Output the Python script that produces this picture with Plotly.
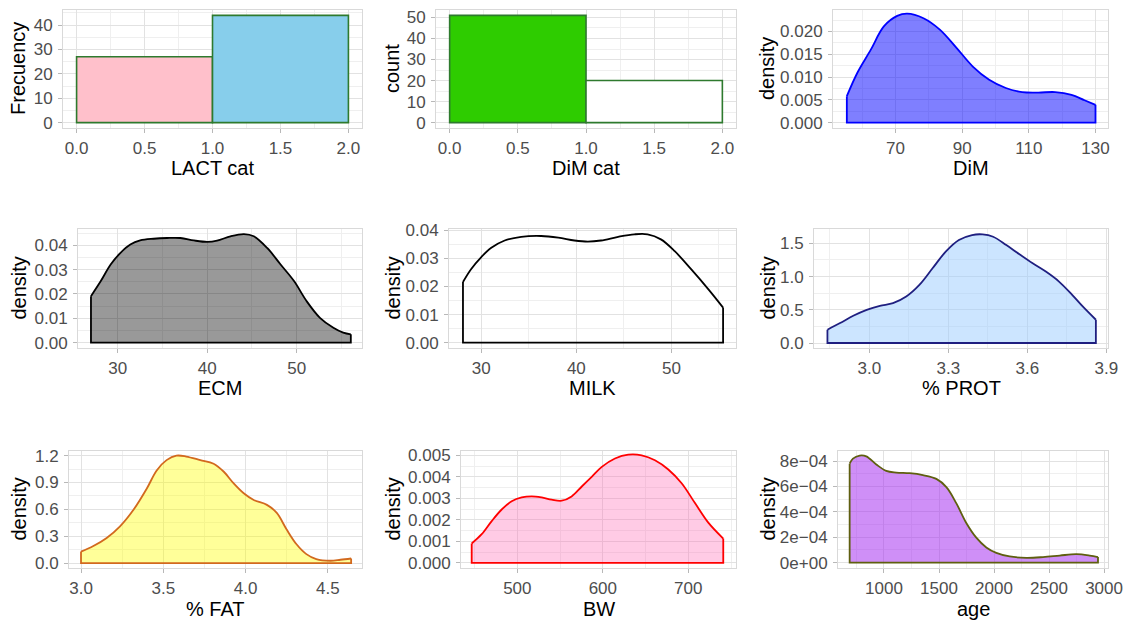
import plotly.graph_objects as go

# ---------------- data ----------------
lact_edges = [0, 1, 2]
lact_counts = [27, 44]
dimcat_edges = [0, 1, 2]
dimcat_counts = [51, 20]

dim_x = [55.4, 58.6, 62.6, 66.5, 70.5, 73.5, 78.4, 83.3, 88.3, 93.2, 98.1, 103.1, 108.0, 112.9, 117.9, 122.8, 126.7, 130.0]
dim_d = [0.0058, 0.0110, 0.0160, 0.0211, 0.0234, 0.0239, 0.0229, 0.0204, 0.0164, 0.0123, 0.0094, 0.0076, 0.0067, 0.0066, 0.0067, 0.0061, 0.0049, 0.0039]

ecm_x = [27.0, 28.1, 29.2, 30.3, 31.4, 32.5, 34.0, 35.5, 37.0, 38.5, 40.0, 41.1, 42.6, 44.1, 45.2, 46.7, 48.2, 49.7, 51.1, 52.6, 54.1, 55.2, 56.05]
ecm_d = [0.0191, 0.0253, 0.0321, 0.0369, 0.0403, 0.0420, 0.0427, 0.0430, 0.0430, 0.0420, 0.0414, 0.0419, 0.0437, 0.0446, 0.0437, 0.0389, 0.0321, 0.0253, 0.0171, 0.0102, 0.0061, 0.0041, 0.0034]

milk_x = [28.07, 28.9, 30.0, 31.05, 32.46, 34.2, 36.3, 38.1, 39.8, 41.2, 42.6, 44.4, 46.1, 47.5, 48.9, 50.35, 52.1, 53.9, 55.44]
milk_d = [0.0216, 0.0261, 0.0305, 0.0338, 0.0364, 0.0377, 0.0380, 0.0374, 0.0364, 0.0360, 0.0364, 0.0377, 0.0386, 0.0386, 0.0368, 0.0326, 0.0261, 0.0190, 0.0125]

prot_x = [2.841, 2.889, 2.939, 2.99, 3.04, 3.09, 3.14, 3.19, 3.24, 3.29, 3.34, 3.39, 3.43, 3.47, 3.52, 3.57, 3.62, 3.67, 3.72, 3.77, 3.81, 3.86]
prot_d = [0.20, 0.30, 0.41, 0.50, 0.56, 0.60, 0.70, 0.875, 1.125, 1.375, 1.55, 1.625, 1.635, 1.60, 1.475, 1.335, 1.20, 1.075, 0.925, 0.725, 0.55, 0.35]

fat_x = [3.0, 3.075, 3.156, 3.237, 3.319, 3.40, 3.46, 3.52, 3.58, 3.64, 3.725, 3.806, 3.868, 3.928, 3.989, 4.05, 4.13, 4.19, 4.25, 4.31, 4.37, 4.43, 4.516, 4.577, 4.642]
fat_d = [0.128, 0.19, 0.28, 0.41, 0.595, 0.833, 1.035, 1.15, 1.20, 1.19, 1.15, 1.11, 1.02, 0.89, 0.78, 0.705, 0.65, 0.56, 0.375, 0.21, 0.10, 0.044, 0.026, 0.037, 0.051]

bw_x = [446.6, 458.3, 470.0, 481.7, 493.4, 505.1, 516.8, 528.5, 540.2, 551.9, 563.5, 575.4, 587.0, 598.8, 614.2, 629.8, 645.4, 661.0, 676.6, 692.2, 707.8, 723.4, 740.9]
bw_d = [0.0009, 0.00133, 0.00194, 0.00248, 0.00286, 0.00304, 0.00309, 0.00304, 0.00294, 0.00289, 0.00309, 0.00355, 0.0040, 0.00446, 0.00485, 0.00503, 0.0050, 0.00477, 0.00434, 0.0037, 0.00278, 0.00187, 0.00113]

age_x = [688, 718, 779, 839, 930, 1021, 1112, 1233, 1354, 1476, 1567, 1658, 1748, 1839, 1930, 2021, 2142, 2294, 2445, 2597, 2748, 2870, 2945]
age_d = [7.8e-4, 8.2e-4, 8.44e-4, 8.38e-4, 7.74e-4, 7.23e-4, 7.1e-4, 7.05e-4, 6.9e-4, 6.6e-4, 5.95e-4, 4.67e-4, 3.13e-4, 1.97e-4, 1.2e-4, 7.7e-5, 4.9e-5, 3.8e-5, 4.4e-5, 5.6e-5, 6.7e-5, 5.6e-5, 4.4e-5]
age_ticks = [0, 2e-4, 4e-4, 6e-4, 8e-4]
age_ticklabels = ["0e+00", "2e\u221204", "4e\u221204", "6e\u221204", "8e\u221204"]

# ---------------- layout helpers ----------------
W, H = 1125, 621
FONT = "Liberation Sans, Arial, Helvetica, sans-serif"

# panel boxes in pixels: left, right, top, bottom
boxes = [
    (63, 362, 10, 128), (436, 736, 10, 128), (833, 1108, 10, 128),
    (78, 362, 229, 348), (449, 736, 229, 348), (814, 1108, 229, 348),
    (69, 362, 451, 568), (461, 736, 451, 568), (838, 1108, 451, 568),
]

fig = go.Figure()
layout = dict(
    width=W, height=H, margin=dict(l=0, r=0, t=0, b=0),
    paper_bgcolor="white", plot_bgcolor="white", showlegend=False,
    font=dict(family=FONT), annotations=[],
)


def axis(box, horiz, rng, tick0, dtick, mdtick, fmt=None, tickvals=None, ticktext=None):
    l, r, t, b = box
    dom = [l / W, r / W] if horiz else [1 - b / H, 1 - t / H]
    a = dict(
        domain=dom, range=rng, showline=True, mirror=True, linecolor="#D9D9D9", linewidth=1,
        showgrid=True, gridcolor="#E2E2E2", gridwidth=1, zeroline=False,
        ticks="outside", ticklen=4, tickwidth=1, tickcolor="#B8B8B8",
        tickfont=dict(size=17, color="#4D4D4D", family=FONT), automargin=False,
        ticklabelstandoff=1 if horiz else 2,
        minor=dict(showgrid=True, gridcolor="#EFEFEF", gridwidth=0.8, tickmode="linear",
                   tick0=tick0, dtick=mdtick),
    )
    if tickvals is not None:
        a.update(tickmode="array", tickvals=tickvals, ticktext=ticktext)
    else:
        a.update(tickmode="linear", tick0=tick0, dtick=dtick)
    if fmt:
        a["tickformat"] = fmt
    return a


def add_xtitle(box, xt, xt_y):
    l, r, t, b = box
    layout["annotations"].append(dict(
        text=xt, xref="paper", yref="paper", x=(l + r) / 2 / W, y=1 - xt_y / H,
        xanchor="center", yanchor="middle", showarrow=False,
        font=dict(size=20, color="black", family=FONT)))


def add_ytitle(box, yt, x_px):
    l, r, t, b = box
    layout["annotations"].append(dict(
        text=yt, xref="paper", yref="paper", x=x_px / W, y=1 - (t + b) / 2 / H,
        xanchor="center", yanchor="middle", showarrow=False, textangle=-90,
        font=dict(size=20, color="black", family=FONT)))


def hist(i, edges, counts, fills):
    xa, ya = f"x{i}", f"y{i}"
    centers = [(edges[k] + edges[k + 1]) / 2 for k in range(len(counts))]
    widths = [edges[k + 1] - edges[k] for k in range(len(counts))]
    fig.add_trace(go.Bar(x=centers, y=counts, width=widths, xaxis=xa, yaxis=ya,
                         marker=dict(color=fills, line=dict(color="#2E7A2E", width=1.6))))


def dens(i, xs, ds, fill, line):
    xa, ya = f"x{i}", f"y{i}"
    fig.add_trace(go.Scatter(x=xs, y=ds, xaxis=xa, yaxis=ya, mode="lines",
                             line=dict(color=line, width=1.8, shape="spline", smoothing=1.0),
                             fill="tozeroy", fillcolor=fill))
    fig.add_trace(go.Scatter(x=[xs[0], xs[0], xs[-1], xs[-1]], y=[ds[0], 0, 0, ds[-1]],
                             xaxis=xa, yaxis=ya, mode="lines",
                             line=dict(color=line, width=1.8)))


hist(1, lact_edges, lact_counts, ["#FFC0CB", "#87CEEB"])
hist(2, dimcat_edges, dimcat_counts, ["#2ECC00", "#FFFFFF"])
dens(3, dim_x, dim_d, "rgba(0,0,255,0.5)", "#0000FF")
dens(4, ecm_x, ecm_d, "rgba(0,0,0,0.4)", "#000000")
dens(5, milk_x, milk_d, "rgba(255,255,255,0)", "#000000")
dens(6, prot_x, prot_d, "rgba(153,204,255,0.5)", "#1F1F80")
dens(7, fat_x, fat_d, "rgba(255,255,0,0.4)", "#D2691E")
dens(8, bw_x, bw_d, "rgba(255,105,180,0.35)", "#FF0000")
dens(9, age_x, age_d, "rgba(160,32,240,0.5)", "#5F5F10")

specs = [
    (([-0.1, 2.1], 0, 0.5, 0.25, ".1f"), ([-2.2, 46.2], 0, 10, 5, None)),
    (([-0.1, 2.1], 0, 0.5, 0.25, ".1f"), ([-2.55, 53.55], 0, 10, 5, None)),
    (([51.25, 133.75], 70, 20, 10, None), ([-0.00118, 0.0247], 0, 0.005, 0.0025, ".3f")),
    (([25.55, 57.3], 30, 10, 5, None), ([-0.0022, 0.0467], 0, 0.01, 0.005, ".2f")),
    (([26.6, 56.8], 30, 10, 5, None), ([-0.0019, 0.0405], 0, 0.01, 0.005, ".2f")),
    (([2.79, 3.906], 3.0, 0.3, 0.15, ".1f"), ([-0.075, 1.716], 0, 0.5, 0.25, ".1f")),
    (([2.927, 4.708], 3.0, 0.5, 0.25, ".1f"), ([-0.055, 1.252], 0, 0.3, 0.15, ".1f")),
    (([434.1, 755.8], 500, 100, 50, None), ([-0.00024, 0.0052], 0, 0.001, 0.0005, ".3f")),
    (([582, 3036], 1000, 500, 250, None), ([-4.2e-5, 8.8e-4], 0, 2e-4, 1e-4, None)),
]

xtitles = ["LACT cat", "DiM cat", "DiM", "ECM", "MILK", "% PROT", "% FAT", "BW", "age"]
ytitles = ["Frecuency", "count", "density", "density", "density", "density", "density", "density", "density"]
xtitle_y = [168, 168, 168, 388, 388, 388, 609, 609, 609]
ytitle_x = [18, 392, 767, 18, 392, 767, 18, 392, 767]

for k in range(9):
    i = k + 1
    box = boxes[k]
    (xr, xt0, xdt, xm, xf), (yr, yt0, ydt, ym, yf) = specs[k]
    xa = axis(box, True, xr, xt0, xdt, xm, xf)
    if i == 9:
        ya = axis(box, False, yr, yt0, ydt, ym, None, age_ticks, age_ticklabels)
    else:
        ya = axis(box, False, yr, yt0, ydt, ym, yf)
    xa["anchor"] = f"y{i}"
    ya["anchor"] = f"x{i}"
    layout["xaxis" if i == 1 else f"xaxis{i}"] = xa
    layout["yaxis" if i == 1 else f"yaxis{i}"] = ya
    add_xtitle(box, xtitles[k], xtitle_y[k])
    add_ytitle(box, ytitles[k], ytitle_x[k])

fig.update_layout(**layout)
fig.write_html("out.html")
